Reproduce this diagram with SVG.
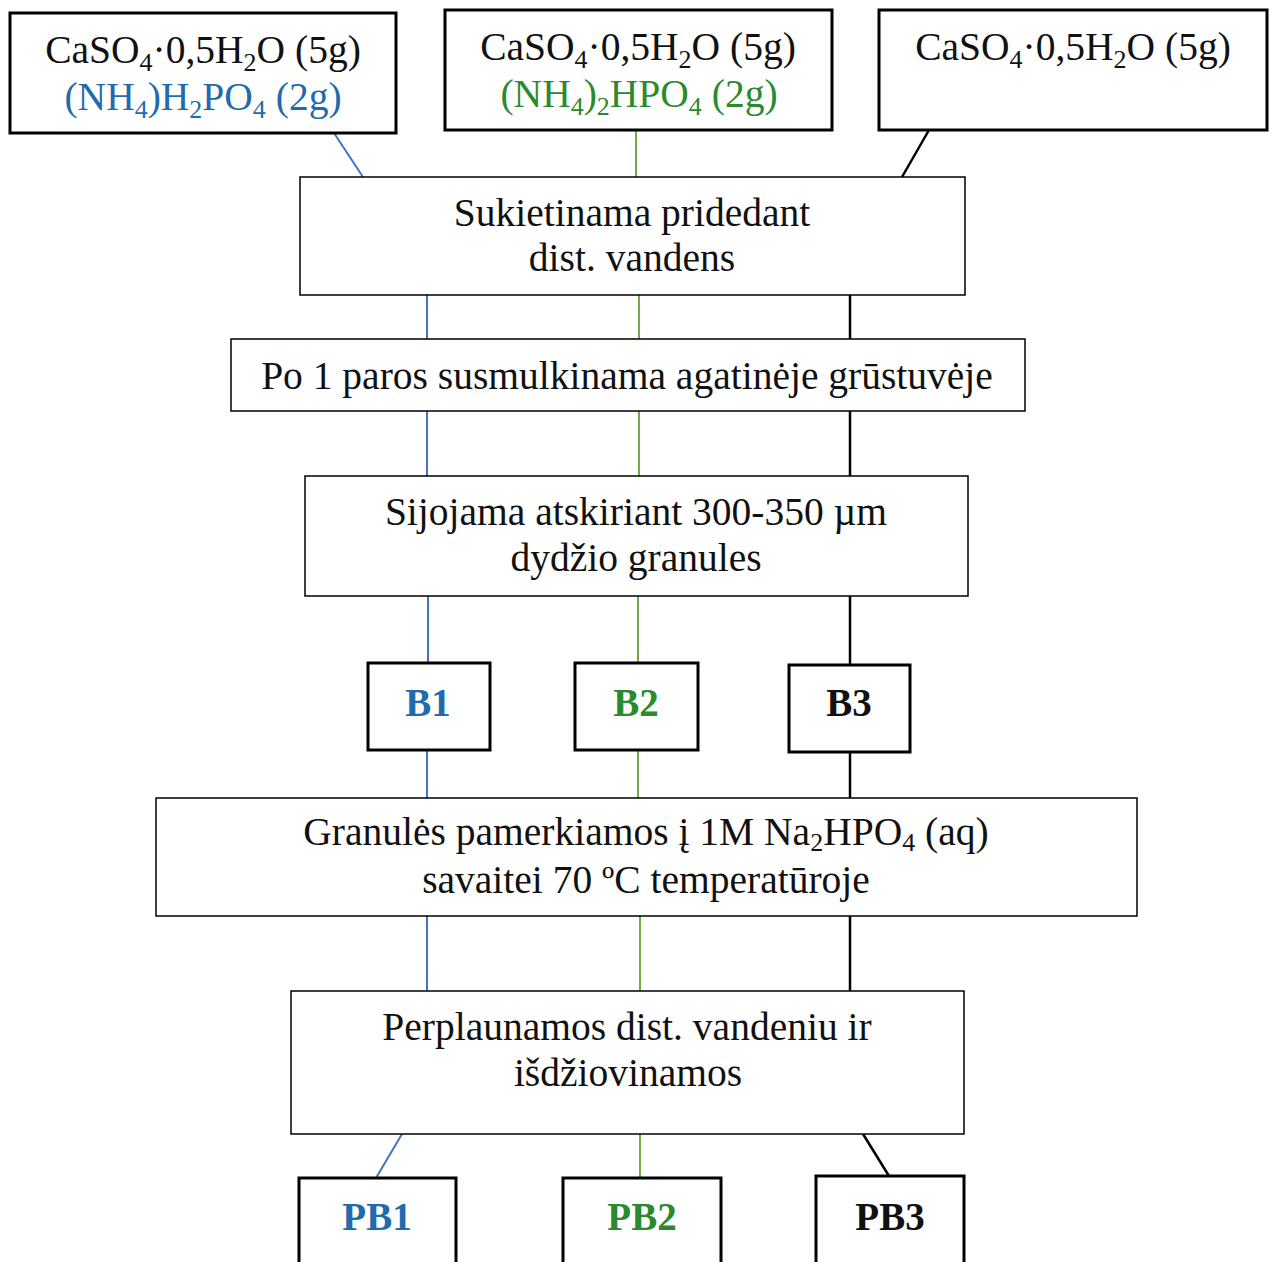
<svg xmlns="http://www.w3.org/2000/svg" width="1275" height="1262" viewBox="0 0 1275 1262">
<style>
.box{fill:#fff;stroke:#000;stroke-width:1.5}
.tb{fill:#fff;stroke:#000;stroke-width:3}
text{font-family:"Liberation Serif","Times New Roman",serif;font-size:39.5px;fill:#111;text-anchor:middle}
.b{font-weight:bold;font-size:39px}
.blue{fill:#1F6BAE}
.green{fill:#2A8A2E}
.sub{font-size:26px}
.lb{stroke:#4472C4;stroke-width:2;fill:none}
.lg{stroke:#70AD47;stroke-width:2;fill:none}
.lk{stroke:#000;stroke-width:2.5;fill:none}
</style>
<rect width="1275" height="1262" fill="#fff"/>
<g id="connectors">
<line class="lb" x1="334" y1="133" x2="363" y2="177"/>
<line class="lg" x1="636" y1="130" x2="636" y2="177"/>
<line class="lk" x1="929" y1="130" x2="902" y2="177"/>
<line class="lb" x1="427" y1="295" x2="427" y2="339"/>
<line class="lg" x1="639" y1="295" x2="639" y2="339"/>
<line class="lk" x1="850" y1="295" x2="850" y2="339"/>
<line class="lb" x1="427" y1="411" x2="427" y2="476"/>
<line class="lg" x1="639" y1="411" x2="639" y2="476"/>
<line class="lk" x1="850" y1="411" x2="850" y2="476"/>
<line class="lb" x1="428" y1="596" x2="428" y2="663"/>
<line class="lg" x1="638" y1="596" x2="638" y2="663"/>
<line class="lk" x1="850" y1="596" x2="850" y2="665"/>
<line class="lb" x1="427" y1="750" x2="427" y2="798"/>
<line class="lg" x1="638" y1="750" x2="638" y2="798"/>
<line class="lk" x1="850" y1="752" x2="850" y2="798"/>
<line class="lb" x1="427" y1="916" x2="427" y2="991"/>
<line class="lg" x1="640" y1="916" x2="640" y2="991"/>
<line class="lk" x1="850" y1="916" x2="850" y2="991"/>
<line class="lb" x1="402" y1="1134" x2="376" y2="1178"/>
<line class="lg" x1="640" y1="1134" x2="640" y2="1178"/>
<line class="lk" x1="863" y1="1134" x2="889" y2="1176"/>
</g>
<g id="n1">
<rect class="tb" x="10" y="13" width="386" height="120"/>
<text x="203" y="63">CaSO<tspan class="sub" dy="8">4</tspan><tspan dy="-8">·0,5H</tspan><tspan class="sub" dy="8">2</tspan><tspan dy="-8">O (5g)</tspan></text>
<text class="blue" x="203" y="110">(NH<tspan class="sub" dy="8">4</tspan><tspan dy="-8">)H</tspan><tspan class="sub" dy="8">2</tspan><tspan dy="-8">PO</tspan><tspan class="sub" dy="8">4</tspan><tspan dy="-8"> (2g)</tspan></text>
</g>
<g id="n2">
<rect class="tb" x="445" y="10" width="387" height="120"/>
<text x="638" y="60">CaSO<tspan class="sub" dy="8">4</tspan><tspan dy="-8">·0,5H</tspan><tspan class="sub" dy="8">2</tspan><tspan dy="-8">O (5g)</tspan></text>
<text class="green" x="639" y="107">(NH<tspan class="sub" dy="8">4</tspan><tspan dy="-8">)</tspan><tspan class="sub" dy="8">2</tspan><tspan dy="-8">HPO</tspan><tspan class="sub" dy="8">4</tspan><tspan dy="-8"> (2g)</tspan></text>
</g>
<g id="n3">
<rect class="tb" x="879" y="10" width="388" height="120"/>
<text x="1073" y="60">CaSO<tspan class="sub" dy="8">4</tspan><tspan dy="-8">·0,5H</tspan><tspan class="sub" dy="8">2</tspan><tspan dy="-8">O (5g)</tspan></text>
</g>
<g id="n4">
<rect class="box" x="300" y="177" width="665" height="118"/>
<text x="632" y="226">Sukietinama pridedant</text>
<text x="632" y="271">dist. vandens</text>
</g>
<g id="n5">
<rect class="box" x="231" y="339" width="794" height="72"/>
<text x="627" y="389">Po 1 paros susmulkinama agatinėje grūstuvėje</text>
</g>
<g id="n6">
<rect class="box" x="305" y="476" width="663" height="120"/>
<text x="636" y="525">Sijojama atskiriant 300-350 µm</text>
<text x="636" y="571">dydžio granules</text>
</g>
<g id="B1">
<rect class="tb" x="368" y="663" width="122" height="87"/>
<text class="b blue" x="428" y="716">B1</text>
</g>
<g id="B2">
<rect class="tb" x="575" y="663" width="123" height="87"/>
<text class="b green" x="636" y="716">B2</text>
</g>
<g id="B3">
<rect class="tb" x="789" y="665" width="121" height="87"/>
<text class="b" x="849" y="716">B3</text>
</g>
<g id="n7">
<rect class="box" x="156" y="798" width="981" height="118"/>
<text x="646" y="845">Granulės pamerkiamos į 1M Na<tspan class="sub" dy="6">2</tspan><tspan dy="-6">HPO</tspan><tspan class="sub" dy="6">4</tspan><tspan dy="-6"> (aq)</tspan></text>
<text x="646" y="893">savaitei 70 ºC temperatūroje</text>
</g>
<g id="n8">
<rect class="box" x="291" y="991" width="673" height="143"/>
<text x="627" y="1040">Perplaunamos dist. vandeniu ir</text>
<text x="628" y="1086">išdžiovinamos</text>
</g>
<g id="PB1">
<rect class="tb" x="299" y="1178" width="157" height="90"/>
<text class="b blue" x="377" y="1230">PB1</text>
</g>
<g id="PB2">
<rect class="tb" x="563" y="1178" width="158" height="90"/>
<text class="b green" x="642" y="1230">PB2</text>
</g>
<g id="PB3">
<rect class="tb" x="816" y="1176" width="148" height="92"/>
<text class="b" x="890" y="1230">PB3</text>
</g>
</svg>
